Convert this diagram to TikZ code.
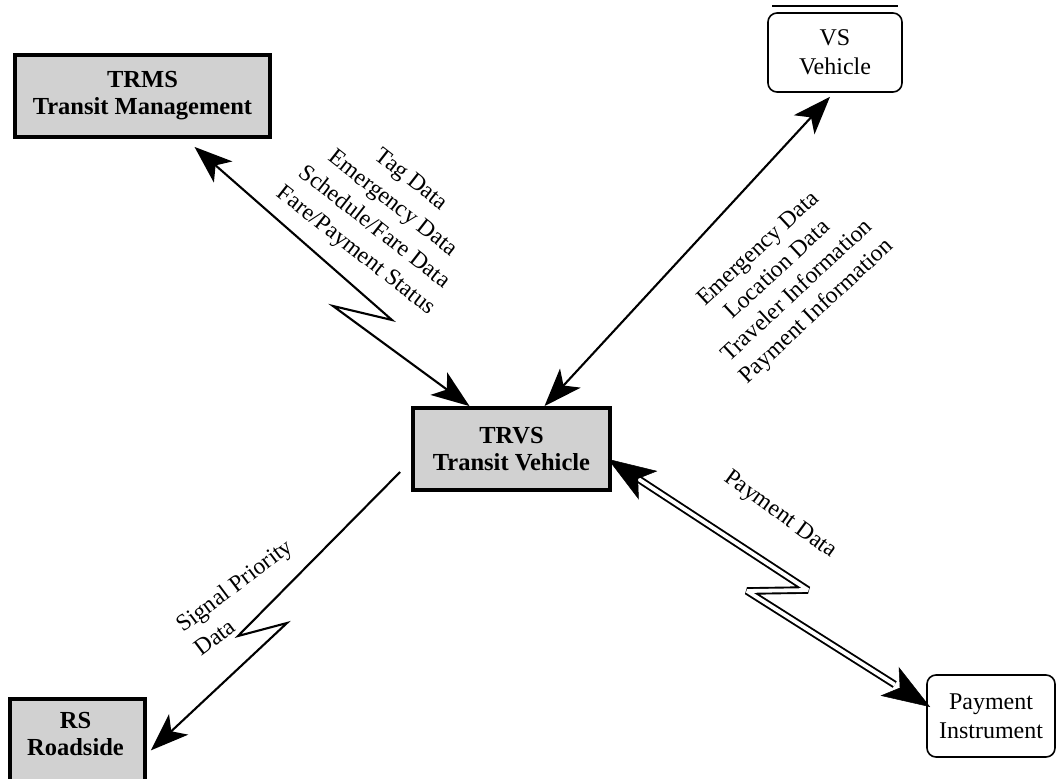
\documentclass[tikz,border=0pt]{standalone}
\usepackage{fontspec}
\setmainfont{Liberation Serif}
\usetikzlibrary{arrows.meta,calc}

\tikzset{
  headS/.tip={Stealth[length=38pt,width=28pt,inset=10pt]},
  headL/.tip={Stealth[length=48pt,width=34pt,inset=12pt,color=black]},
}

\begin{document}
\begin{tikzpicture}[x=1pt,y=-1pt,
  shadebox/.style={draw=black, line width=3.8pt, fill=black!18, align=center,
    font=\fontsize{24.5}{27}\selectfont\bfseries, inner sep=0pt},
  plainbox/.style={draw=black, line width=1.6pt, rounded corners=9pt, fill=white,
    align=center, inner sep=0pt, font=\fontsize{24}{29}\selectfont},
  flow/.style={line width=2.1pt, line join=miter},
  twinflow/.style={line width=1.9pt, double=white, double distance=3.8pt,
    line join=miter, miter limit=2},
  flowlabel/.style={inner sep=2pt},
]
\useasboundingbox (0,0) rectangle (1058,779);
\clip (0,0) rectangle (1058,779);

% subsystems
\node[shadebox, minimum width=255pt, minimum height=82pt] (trms) at (142.5,96)
  {TRMS\\Transit Management};
\node[shadebox, minimum width=197pt, minimum height=82pt] (trvs) at (511.5,449)
  {TRVS\\Transit Vehicle};
\node[shadebox, minimum width=135pt, minimum height=95pt, anchor=north west] (rs) at (8,697) {};
\node[font=\fontsize{24.5}{27}\selectfont\bfseries, align=center] (rstext) at (75.5,734) {RS\\Roadside};

% terminators
\node[plainbox, minimum width=134pt, minimum height=79pt] (vs) at (835,52.5) {VS\\Vehicle};
\node[plainbox, minimum width=128pt, minimum height=82pt] (pay) at (991,716) {Payment\\Instrument};
\draw[line width=2.4pt] ($(vs.north west)+(5,-6)$) -- ($(vs.north east)+(-5,-6)$);

% connector end points
\coordinate (trmsTip) at ($(trms.south)+(52,8)$);
\coordinate (trvsTipA) at ($(trvs.north)+(-42,0)$);
\coordinate (trvsTipB) at ($(trvs.north)+(33,0)$);
\coordinate (trvsOut) at ($(trvs.west)+(-11,23)$);
\coordinate (trvsTipC) at ($(trvs.east)+(-4,10)$);
\coordinate (vsTip) at ($(vs.south)+(-5,4)$);
\coordinate (rsTip) at ($(rs.east)+(4,4)$);
\coordinate (payTip) at ($(pay.west)+(4,-9)$);

% lightning breaks
\coordinate (kinkA1) at (392,320);
\coordinate (kinkA2) at (333,306);
\coordinate (kinkB1) at (238,636);
\coordinate (kinkB2) at (287,623);
\coordinate (kinkC1) at (808,590);
\coordinate (kinkC2) at (747,591);

% TRMS <-> TRVS
\draw[flow, {headS}-{headS}] (trmsTip) -- (kinkA1) -- (kinkA2) -- (trvsTipA);
% VS <-> TRVS
\draw[flow, {headS}-{headS}] (vsTip) -- (trvsTipB);
% TRVS -> RS
\draw[flow, -{headS}] (trvsOut) -- (kinkB1) -- (kinkB2) -- (rsTip);
% TRVS <-> Payment Instrument (twin line)
\draw[twinflow, shorten <=28pt, shorten >=42pt] (trvsTipC) -- (kinkC1) -- (kinkC2) -- (payTip);
\draw[white, line width=0.5pt, -{headL}] ($(kinkC2)!0.6!(payTip)$) -- (payTip);
\draw[white, line width=0.5pt, -{headL}] ($(kinkC1)!0.7!(trvsTipC)$) -- (trvsTipC);

% flow labels
\node[flowlabel, rotate=-38, align=center, font=\fontsize{23.5}{30}\selectfont] (lblTrms) at (383,216)
  {Tag Data\\Emergency Data\\Schedule/Fare Data\\Fare/Payment Status};
\node[flowlabel, rotate=43, align=center, font=\fontsize{23.5}{28.5}\selectfont] (lblVs) at (788,281)
  {Emergency Data\\Location Data\\Traveler Information\\Payment Information};
\node[flowlabel, rotate=37, align=left, font=\fontsize{23.5}{30}\selectfont] (lblRs) at (243,597)
  {Signal Priority\\Data};
\node[flowlabel, rotate=-36, font=\fontsize{23.5}{28}\selectfont] (lblPay) at (780,515) {Payment Data};
\end{tikzpicture}
\end{document}
